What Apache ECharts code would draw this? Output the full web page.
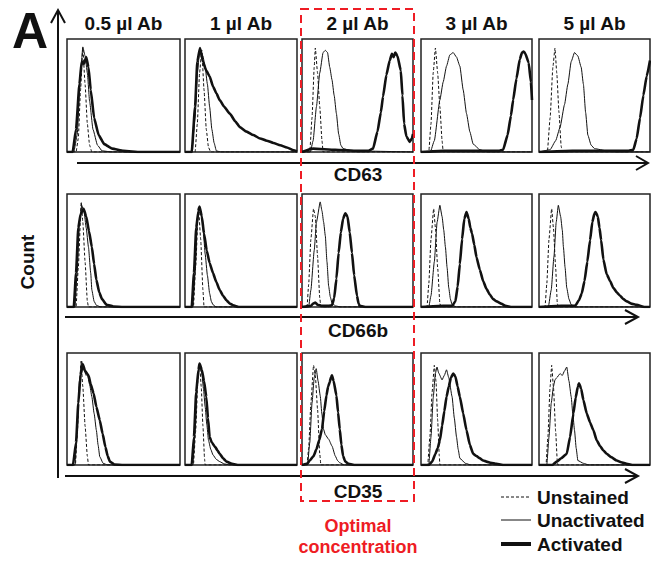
<!DOCTYPE html>
<html>
<head>
<meta charset="utf-8">
<script src="https://cdn.jsdelivr.net/npm/echarts@6/dist/echarts.min.js"></script>
<style>
  html, body { margin: 0; padding: 0; background: #fff; }
  #chart { width: 651px; height: 563px; }
</style>
</head>
<body>
<div id="chart"></div>
<script>
// columns = antibody volume, rows = marker; each curve is [channel, count %]
const concentrations = ['0.5 µl Ab', '1 µl Ab', '2 µl Ab', '3 µl Ab', '5 µl Ab'];
const markerNames = ['CD63', 'CD66b', 'CD35'];
const legendNames = ['Unstained', 'Unactivated', 'Activated'];

const cd63Unstained = [
  [[0,0],[8,0],[10,12],[12,55],[14,92],[16,60],[18,25],[20,6],[22,0],[100,0]],
  [[0,0],[9,0],[11,25],[13,70],[15,90],[17,55],[19,20],[21,4],[23,0],[100,0]],
  [[0,0],[7,0],[9,30],[11,75],[12,92],[14,70],[16,40],[18,10],[19,0],[100,0]],
  [[0,0],[7,0],[9,25],[11,70],[13,92],[15,70],[17,40],[19,10],[20,0],[100,0]],
  [[0,0],[7.5,0],[10,30],[12.5,75],[14.4,92],[16,70],[18,35],[20,5],[21,0],[100,0]]
];
const cd63Unactivated = [
  [[0,0],[6,0],[9,15],[12,70],[14,93],[16,85],[18,70],[20,45],[23,20],[27,6],[31,1],[40,0],[100,0]],
  [[0,0],[6,0],[9,30],[11,70],[13.4,92],[16,85],[18,75],[20,60],[22,40],[24,20],[26,8],[28,1],[32,0],[100,0]],
  [[0,0],[7.5,0],[10,10],[13,40],[16,70],[19,88],[21,90],[23,88],[25,75],[27,64],[29,50],[31,34],[33,16],[35,6],[37,3],[45,1],[100,0]],
  [[0,0],[8.4,0],[12,10],[17,46],[20,62],[23,76],[26,86],[29,88],[32,84],[35,76],[38,55],[41,34],[44,18],[47,7],[53,2],[60,0],[100,0]],
  [[0,0],[10,2],[15,10],[19,22],[23,42],[26,60],[29,80],[32,88],[35,85],[38,75],[40,60],[42,35],[44,15],[47,6],[50,3],[61,1],[70,0],[100,0]]
];
const cd63Activated = [
  [[0,0],[5,0],[8,20],[11,60],[13,80],[15,78],[17,84],[19,75],[21,55],[24,30],[28,15],[33,7],[40,3],[50,1],[65,0],[100,0]],
  [[0,0],[6,0],[9,40],[11,80],[13.4,92],[16,80],[19,72],[22,67],[25,58],[28,52],[31,46],[35,40],[40,34],[45,27],[49,22],[55,18],[61,15],[67,12],[73,10],[79,8],[85,6],[91,4],[97,1.5],[100,0.5]],
  [[0,0],[10,3],[30,2],[50,1],[60,1],[64,3],[68,18],[71,35],[73,49],[76,68],[79,81],[81,87],[82.5,84],[84,88],[86,85],[89,72],[90.5,50],[92,25],[94,14],[97,9],[99,12],[100,16]],
  [[0,0],[20,1],[50,1],[70,1],[74,2],[78,15],[81,32],[83,46],[86,65],[89,82],[91,88],[92.5,89],[94,87],[97,79],[99,62],[100,46]],
  [[0,0],[30,1],[60,1],[80,1],[85,2],[88,12],[91,30],[94,50],[97,67],[100,81]]
];

const cd66bUnstained = [
  [[0,0],[8,0],[10,35],[12.6,93],[14,75],[16,40],[18,5],[19,0],[100,0]],
  [[0,0],[7.5,0],[9.5,35],[12,89],[14,60],[16,15],[17,0],[100,0]],
  [[0,0],[4.5,0],[6,20],[8,60],[10.4,87],[12,80],[14,45],[16,8],[17,0],[100,0]],
  [[0,0],[5.4,0],[7,20],[9,60],[11.4,87],[13,70],[15,35],[17,3],[18,0],[100,0]],
  [[0,0],[5.4,0],[7,20],[9,60],[11.4,87],[13,70],[15,35],[16.5,3],[17.5,0],[100,0]]
];
const cd66bUnactivated = [
  [[0,0],[7,0],[9,30],[11,75],[13,90],[15,85],[17,70],[19,53],[21,30],[22,15],[24,5],[26,1.5],[30,0],[100,0]],
  [[0,0],[7,0],[9,30],[11,75],[13,89],[15,80],[16.5,65],[18,47],[20,28],[22,12],[23.5,5],[25,2],[28,0],[100,0]],
  [[0,0],[6,0],[8,15],[11,50],[13,75],[16.4,93],[18,85],[19.5,75],[21,63],[22.5,40],[24,18.5],[25.5,9],[27,3.6],[30,1],[35,0],[100,0]],
  [[0,0],[7,0],[9,10],[12,40],[14.5,75],[17,90],[19,80],[20.5,68],[22,53],[23.5,35],[25,17],[26.5,7],[28,2],[32,0],[100,0]],
  [[0,0],[8.4,0],[11,15],[13.5,45],[15.5,75],[17.4,90],[19.5,80],[21,68],[22,53],[23.5,35],[25,17],[27,7],[29,2],[33,0],[100,0]]
];
const cd66bActivated = [
  [[0,0],[6,0],[8,30],[10,70],[12,82],[14.7,87],[17,80],[19.5,67],[22,53],[24,38],[26,24],[28.5,13],[31,7],[35,2],[41,0.5],[50,0],[100,0]],
  [[0,0],[6,0],[8,30],[10,70],[12,85],[13,89],[15,80],[17,65],[19.4,50],[22,39],[25,30],[28,22],[31,15],[34,10],[37,6],[40,3],[43,1.5],[48,0],[100,0]],
  [[0,0],[8,1],[10,3],[12,4],[14,2],[18,1],[24,1],[27,1.5],[29,8],[31,25],[33,48],[35,66],[37,78],[39,83],[41,80],[43,66],[45,48],[47,28],[49.5,10],[51,3],[52,1],[58,0],[100,0]],
  [[0,0],[20,1],[28,1],[31,5],[33,18],[35,38],[37,60],[39,78],[41,84],[43,78],[44.5,70],[46,65],[48,55],[50,44],[53,33],[56,23],[59,16],[62,11],[65,7],[68,5],[72,3],[76,1],[82,0],[100,0]],
  [[0,0],[20,1],[32.5,1],[36,6],[38.5,12],[41,23],[43.5,40],[46,59],[48,75],[50,83],[51,84],[53,80],[54.5,70],[56,59],[58,42],[61,29],[64,23],[67,17],[70,13],[73,10],[76,7],[79,5],[83,3],[88,2],[95,0],[100,0]]
];

const cd35Unstained = [
  [[0,0],[7.4,0],[9,25],[11,70],[12.4,92.6],[14,70],[16,35],[18,8],[19,0],[100,0]],
  [[0,0],[7.5,0],[9.5,30],[11.5,75],[13,90.5],[14.5,70],[16,35],[17.5,5],[18,0],[100,0]],
  [[0,0],[4.5,0],[6,15],[8,55],[10.4,89],[12,80],[14,50],[16,10],[17,0],[100,0]],
  [[0,0],[6,0],[8,25],[10,65],[12,89],[13.5,75],[15,40],[16.5,8],[17,0],[100,0]],
  [[0,0],[6.3,0],[8,25],[10,70],[11.4,89],[13,70],[15,30],[16.5,3],[17,0],[100,0]]
];
const cd35Unactivated = [
  [[0,0],[7,0],[9,30],[11,75],[13,92.6],[15,85],[17,80],[18,81],[20,72],[22,61],[24,46],[26,31],[27.5,18],[29,7.4],[32,1.5],[36,0],[100,0]],
  [[0,0],[7,0],[9,30],[11,75],[13,90.5],[15,82],[16.5,68],[18,52],[19.5,36],[21,22],[23,14],[25,9],[28,5],[31,3],[35,1],[40,0],[100,0]],
  [[0,0],[5,0],[7,20],[9,55],[11,78],[12.8,86],[14.5,75],[16.4,62],[18,45],[19.4,32],[21,27],[24,23],[27,17],[30,8],[32,4],[34,2],[38,0],[100,0]],
  [[0,0],[7,0],[9,25],[11,60],[13,82],[14.4,87.5],[16,82],[19,76],[21,80],[23,85],[25,78],[28,61],[30,42],[32,25],[33.5,14],[35,6],[40,1.5],[45,0],[100,0]],
  [[0,0],[7,0],[9,25],[11,55],[13,70],[14.4,76],[16,78],[19,81.6],[21,80],[23,84],[25,87.5],[27,75],[29,61],[30.5,45],[32,31],[33.5,15],[35,4],[40,1.5],[45,0],[100,0]]
];
const cd35Activated = [
  [[0,0],[5.3,0],[8,20],[10,55],[12,80],[14,90],[16,84],[19,80],[21,72],[23.5,64],[26,52],[29,40],[31.5,28],[34,16],[36,8],[38,3],[42,0.5],[50,0],[100,0]],
  [[0,0],[6,0],[8,25],[10,65],[12,85],[13,90.5],[15,85],[17,75],[19,61],[20.5,42],[22,25],[24,20],[27,16],[29,13],[31,10],[34,6],[37,3],[42,1],[48,0],[100,0]],
  [[0,0],[4.5,1],[7,4],[10.4,8],[13,14],[15.5,22],[18,32],[20,48],[22,62],[23.5,70],[25,74],[26,78],[27,80],[28.5,75],[31,62],[32.5,47],[34,32],[35.5,18],[37,8],[39,3],[42,1],[48,0],[100,0]],
  [[0,0],[7,0],[10,3],[13,10],[15,15],[17,22],[19,35],[21,48],[23,61],[25,70],[27,78],[29,81.6],[31,79],[33,70],[35,61],[38,46],[41,31],[44,18],[47,10],[50,8],[53,6],[56,4],[59,3],[63,2],[68,1],[75,0],[100,0]],
  [[0,0],[12,0],[16,3],[20,6],[25,10],[28,25],[31,46],[33,60],[35,70],[36,73],[38,68],[40,58],[43,46],[46,38],[49,31],[52,22],[55,17],[58,13],[61,10],[65,7],[70,4],[74,2.5],[79,1],[85,0],[100,0]]
];

const rows = [
  [cd63Unstained, cd63Unactivated, cd63Activated],
  [cd66bUnstained, cd66bUnactivated, cd66bActivated],
  [cd35Unstained, cd35Unactivated, cd35Activated]
];

const colLeft = [67, 185, 302, 421, 539];
const colWidth = [113, 112, 111, 111, 111];
const rowTop = [39, 194, 353];
const rowHeight = [113, 113, 112];
const ink = '#111';
const red = '#ee1c24';
const font = '"Liberation Sans", Arial, sans-serif';

const lineStyles = [
  { color: ink, width: 1, type: [3, 2] },
  { color: ink, width: 1 },
  { color: ink, width: 2.6 }
];

let grids = [], xAxes = [], yAxes = [], series = [];
rows.forEach(function (curves, r) {
  concentrations.forEach(function (conc, c) {
    let i = grids.length;
    grids.push({
      left: colLeft[c], top: rowTop[r], width: colWidth[c], height: rowHeight[r],
      show: true, borderColor: '#222', borderWidth: 1.5, backgroundColor: '#fff'
    });
    xAxes.push({ gridIndex: i, type: 'value', min: 0, max: 100, show: false });
    yAxes.push({ gridIndex: i, type: 'value', min: 0, max: 100, show: false });
    curves.forEach(function (set, k) {
      series.push({
        name: legendNames[k],
        type: 'line',
        xAxisIndex: i,
        yAxisIndex: i,
        data: set[c],
        symbol: 'none',
        smooth: 0.15,
        smoothMonotone: 'x',
        silent: true,
        z: 3 + k,
        itemStyle: { color: ink },
        lineStyle: lineStyles[k]
      });
    });
  });
});

function text(str, x, y, size, opts, color, align) {
  return Object.assign({
    type: 'text', x: x, y: y, z: 50,
    style: {
      text: str, fill: color || ink, font: 'bold ' + size + 'px ' + font,
      align: align || 'center', verticalAlign: 'middle'
    }
  }, opts || {});
}

function poly(points, width, dash) {
  return {
    type: 'polyline', z: 40,
    shape: { points: points },
    style: { stroke: ink, lineWidth: width, fill: null, lineDash: dash || null }
  };
}

let graphics = [
  text('A', 30, 31, 50),
  text('Count', 27, 262, 19, { rotation: Math.PI / 2 }),
  poly([[58, 478], [58, 11]], 2),
  poly([[51, 23], [58, 10], [65, 23]], 2),
  poly([[77, 163], [647, 163]], 2),
  poly([[636, 156], [648, 163], [636, 170]], 2),
  poly([[65, 317], [637, 317]], 2),
  poly([[625, 310], [638, 317], [625, 324]], 2),
  poly([[65, 476], [637, 476]], 2),
  poly([[625, 469], [638, 476], [625, 483]], 2),
  text(markerNames[0], 358, 174, 19),
  text(markerNames[1], 358, 330, 19),
  text(markerNames[2], 358, 491, 19),
  {
    type: 'rect', z: 60,
    shape: { x: 301, y: 9, width: 113, height: 492 },
    style: { stroke: red, lineWidth: 2, fill: null, lineDash: [8, 5] }
  },
  text('Optimal', 358, 526, 18, null, red),
  text('concentration', 358, 547, 18, null, red)
];
concentrations.forEach(function (conc, c) {
  graphics.push(text(conc, colLeft[c] + colWidth[c] / 2, 23, 19));
});

// legend: sample line + label
const legendY = [497, 520, 544];
const legendWidth = [1, 1, 4];
legendNames.forEach(function (name, k) {
  graphics.push(poly([[501, legendY[k]], [531, legendY[k]]], legendWidth[k], k === 0 ? [3, 2] : null));
  graphics.push(text(name, 537, legendY[k], 19, null, ink, 'left'));
});

var option = {
  animation: false,
  backgroundColor: '#fff',
  grid: grids,
  xAxis: xAxes,
  yAxis: yAxes,
  graphic: graphics,
  series: series
};

const chart = echarts.init(document.getElementById('chart'), null, { renderer: 'svg' });
chart.setOption(option);
</script>
</body>
</html>
